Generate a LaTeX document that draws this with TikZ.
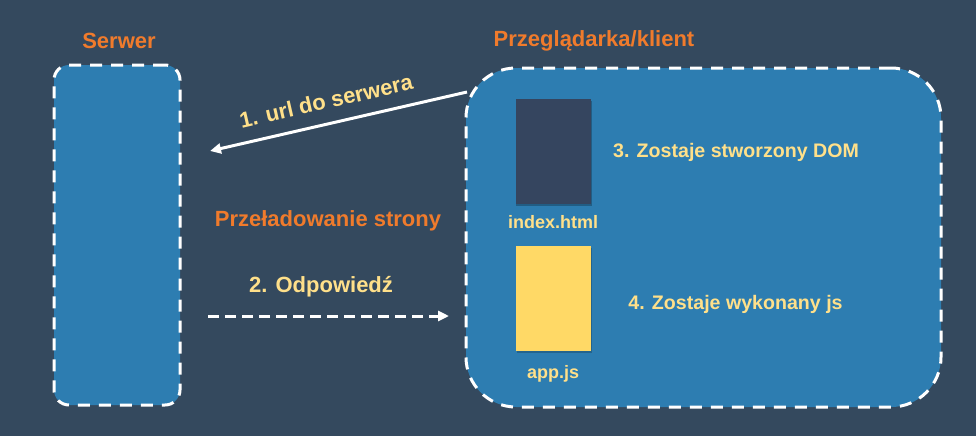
\documentclass[tikz,border=0pt]{standalone}
\usepackage{fontspec}
\setmainfont{Liberation Sans}
\usetikzlibrary{arrows.meta}
\definecolor{bgc}{HTML}{34495E}
\definecolor{boxc}{HTML}{2D7DB1}
\definecolor{filec}{HTML}{35455F}
\definecolor{jsc}{HTML}{FFD966}
\definecolor{txty}{HTML}{FFE08A}
\definecolor{txto}{HTML}{F07B2C}
\tikzset{
  zone/.style={draw=white, fill=boxc, line width=3pt, dash pattern=on 12pt off 9pt, inner sep=0pt},
  filebox/.style={inner sep=0pt, minimum width=75pt, minimum height=105pt},
  title/.style={font=\bfseries\fontsize{22}{25}\selectfont, text=txto, inner sep=0pt},
  ylabel/.style={font=\bfseries\fontsize{19.6}{24}\selectfont, text=txty, inner sep=0pt},
  flabel/.style={font=\bfseries\fontsize{18}{22}\selectfont, text=txty, inner sep=0pt},
  arr/.style={draw=white, line width=3pt, -{Triangle[length=11pt,width=10pt]}},
}
\begin{document}
\begin{tikzpicture}[x=1pt,y=-1pt]
\fill[bgc] (0,0) rectangle (976,436);
\useasboundingbox (0,0) rectangle (976,436);

\node[zone, rounded corners=15pt, minimum width=126pt, minimum height=340pt] (srv) at (117,235) {};
\node[zone, rounded corners=50pt, minimum width=475pt, minimum height=339pt] (cli) at (703.5,237.5) {};

\node[title] (tsrv) at (119,41) {Serwer};
\node[title] (tcli) at (594,41) {Przeglądarka/klient};

\fill[black, opacity=0.25] (516,101) rectangle (592,206);
\node[filebox, fill=filec] (html) at (553,151.5) {};
\fill[black, opacity=0.2] (517,248) rectangle (592,353);
\node[filebox, fill=jsc] (js) at (553.5,298.5) {};
\node[flabel] (lhtml) at (553,222) {index.html};
\node[flabel] (ljs) at (553,374) {app.js};

\node[ylabel] (dom) at (736,152) {3. Zostaje stworzony DOM};
\node[ylabel] (exe) at (735.5,304) {4. Zostaje wykonany js};

\coordinate (a1s) at (467,92);
\coordinate (a1e) at (210,151);
\draw[arr] (a1s) -- (a1e);
\node[title, text=txty, rotate=12.9] (l1) at (326,101) {1. url do serwera};

\node[title] (reload) at (328,221) {Przeładowanie strony};
\node[title, text=txty] (l2) at (321,287) {2. Odpowiedź};
\coordinate (a2s) at (208,316);
\coordinate (a2e) at (449,316);
\draw[arr, dash pattern=on 11pt off 6pt] (a2s) -- (a2e);
\end{tikzpicture}
\end{document}
